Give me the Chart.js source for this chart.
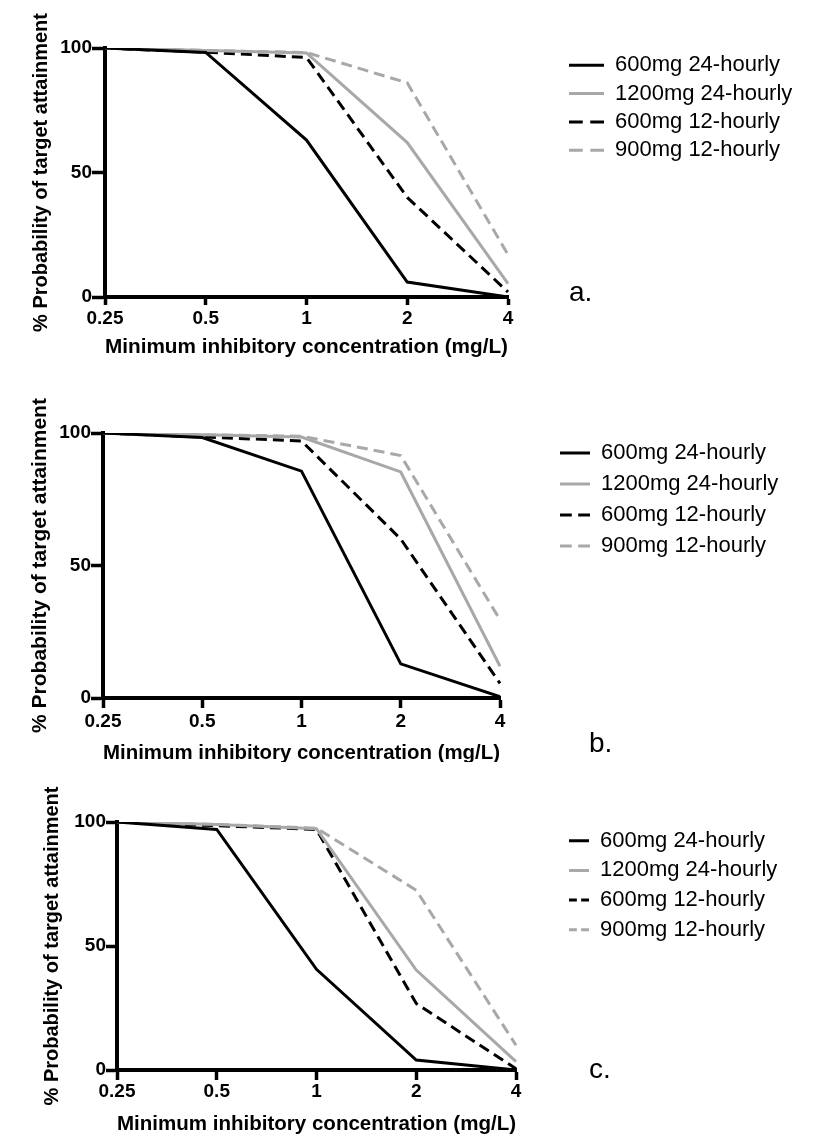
<!DOCTYPE html>
<html>
<head>
<meta charset="utf-8">
<script src="https://cdn.jsdelivr.net/npm/chart.js@4"></script>
<style>
html,body{margin:0;padding:0;background:#fff;}
body{width:829px;height:1137px;position:relative;overflow:hidden;font-family:"Liberation Sans",Arial,sans-serif;}
.wrap{position:absolute;left:0;width:829px;overflow:hidden;}
canvas{display:block;}
.tag{position:absolute;font-size:28px;line-height:28px;color:#000;white-space:nowrap;}
</style>
</head>
<body>
<div class="wrap" style="top:0;height:365px"><canvas id="ca" width="829" height="365"></canvas></div>
<div class="wrap" style="top:365px;height:397px"><canvas id="cb" width="829" height="410"></canvas></div>
<div class="wrap" style="top:775px;height:362px"><canvas id="cc" width="829" height="362"></canvas></div>
<div class="tag" style="left:569px;top:278px">a.</div>
<div class="tag" style="left:589px;top:729px">b.</div>
<div class="tag" style="left:589px;top:1055px">c.</div>
<script>
// ---- data ----
const micLabels = ['0.25', '0.5', '1', '2', '4'];
const seriesNames = ['600mg 24-hourly', '1200mg 24-hourly', '600mg 12-hourly', '900mg 12-hourly'];
const yTicks = [0, 50, 100];
const xTitle = 'Minimum inhibitory concentration (mg/L)';
const yTitle = '% Probability of target attainment';

// panel a
const a_600q24 = [100, 98.2, 63, 6, 0];
const a_1200q24 = [100, 99, 98, 62, 5.4];
const a_600q12 = [100, 98.3, 96.2, 40, 2];
const a_900q12 = [100, 99, 98.2, 86, 17];
// panel b
const b_600q24 = [100, 98.3, 85.6, 12.9, 0.5];
const b_1200q24 = [100, 99.3, 98.5, 85.3, 12];
const b_600q12 = [100, 98.5, 97, 60, 5.5];
const b_900q12 = [100, 99.3, 98.8, 91.5, 29.5];
// panel c
const c_600q24 = [100, 97, 40.6, 4, 0];
const c_1200q24 = [100, 99, 97.3, 40.3, 3.4];
const c_600q12 = [100, 98.5, 97, 26.8, 0.5];
const c_900q12 = [100, 99, 97.5, 72.5, 10];

// ---- styles ----
const FONT = '"Liberation Sans", Arial, sans-serif';
const BLACK = '#000000';
const GREY = '#a8a8a8';
const DASH = [11, 6];
const lineStyles = [
  {color: BLACK, dash: []},
  {color: GREY, dash: []},
  {color: BLACK, dash: DASH},
  {color: GREY, dash: DASH}
];

function makePanel(id, values, g) {
  const ctx = document.getElementById(id).getContext('2d');
  // legend sample: two dashes filling the sample width
  const legendDash = [g.boxW * 11 / 28, g.boxW * 6 / 28];
  return new Chart(ctx, {
    type: 'line',
    data: {
      labels: micLabels,
      datasets: seriesNames.map((name, i) => ({
        label: name,
        data: values[i],
        borderColor: lineStyles[i].color,
        backgroundColor: lineStyles[i].color,
        borderWidth: 3,
        borderDash: lineStyles[i].dash,
        borderCapStyle: 'butt',
        borderJoinStyle: 'miter',
        pointRadius: 0,
        pointHoverRadius: 0,
        tension: 0,
        fill: false
      }))
    },
    options: {
      responsive: false,
      animation: false,
      events: [],
      layout: {padding: {top: g.padTop, right: g.padRight, bottom: 0, left: 0}},
      plugins: {
        tooltip: {enabled: false},
        legend: {
          position: 'right',
          align: 'start',
          fullSize: false,
          maxWidth: g.legendW,
          labels: {
            usePointStyle: true,
            pointStyleWidth: g.boxW,
            padding: g.legendPad,
            color: '#000',
            font: {size: g.legendFont, family: FONT},
            generateLabels: chart => chart.data.datasets.map((ds, i) => ({
              text: ds.label,
              strokeStyle: ds.borderColor,
              fillStyle: 'rgba(0,0,0,0)',
              lineWidth: ds.borderWidth,
              lineDash: ds.borderDash.length ? legendDash : [],
              lineCap: 'butt',
              pointStyle: 'line',
              hidden: false,
              datasetIndex: i,
              fontColor: '#000'
            }))
          }
        }
      },
      scales: {
        x: {
          type: 'category',
          offset: false,
          grid: {display: true, drawOnChartArea: false, drawTicks: true, tickLength: g.xTickLen, tickWidth: 3.5, tickColor: '#000'},
          border: {display: true, color: '#000', width: 4},
          ticks: {color: '#000', font: {size: 19, weight: 'bold', family: FONT}, padding: g.xTickPad, maxRotation: 0, autoSkip: false},
          title: {display: true, text: xTitle, color: '#000', font: {size: 21, weight: 'bold', family: FONT}, padding: {top: 0, bottom: g.xTitlePad}},
          afterFit: s => { s.height = g.xHeight; }
        },
        y: {
          type: 'linear',
          min: 0,
          max: 100,
          afterBuildTicks: s => { s.ticks = yTicks.map(v => ({value: v})); },
          grid: {display: true, drawOnChartArea: false, drawTicks: true, tickLength: g.yTickLen, tickWidth: 3.5, tickColor: '#000'},
          border: {display: true, color: '#000', width: 4},
          ticks: {color: '#000', font: {size: 19, weight: 'bold', family: FONT}, padding: 0},
          title: {display: true, text: yTitle, color: '#000', font: {size: g.yTitleSize, weight: 'bold', family: FONT}, padding: {top: g.yTitlePad, bottom: 0}},
          afterFit: s => { s.width = g.yWidth; }
        },
        gap: {
          type: 'linear',
          position: 'right',
          display: true,
          grid: {display: false},
          border: {display: false},
          ticks: {display: false},
          afterFit: s => { s.width = g.gap; }
        }
      }
    }
  });
}

makePanel('ca', [a_600q24, a_1200q24, a_600q12, a_900q12], {
  padTop: 48, padRight: 34.3, legendW: 232, yWidth: 105, xHeight: 68, gap: 54.7,
  legendPad: 6.3, legendFont: 22, boxW: 35,
  xTickLen: 8, xTickPad: 2.6, yTickLen: 13, xTitlePad: 4.7,
  yTitleSize: 20, yTitlePad: 29.3
});
makePanel('cb', [b_600q24, b_1200q24, b_600q12, b_900q12], {
  padTop: 68, padRight: 44, legendW: 234, yWidth: 103, xHeight: 77, gap: 51,
  legendPad: 9, legendFont: 22, boxW: 30,
  xTickLen: 10, xTickPad: 2.6, yTickLen: 12, xTitlePad: 8.7,
  yTitleSize: 21, yTitlePad: 28.1
});
makePanel('cc', [c_600q24, c_1200q24, c_600q12, c_900q12], {
  padTop: 47, padRight: 46.7, legendW: 221, yWidth: 117, xHeight: 67, gap: 45.3,
  legendPad: 7.7, legendFont: 22, boxW: 20,
  xTickLen: 10, xTickPad: 0.6, yTickLen: 11, xTitlePad: 0,
  yTitleSize: 20, yTitlePad: 40.3
});
</script>
</body>
</html>
